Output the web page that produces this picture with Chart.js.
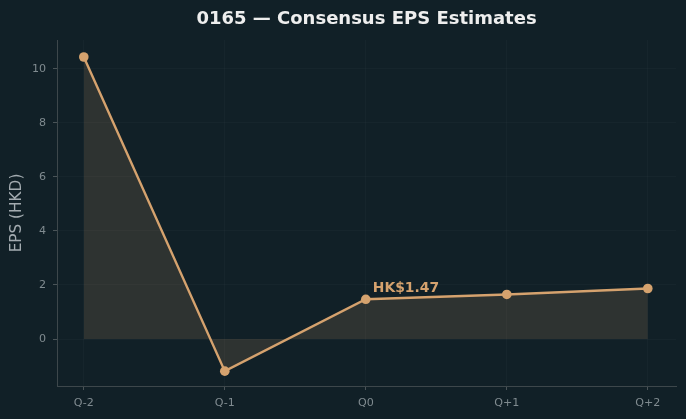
<!DOCTYPE html>
<html>
<head>
<meta charset="utf-8">
<script src="https://cdn.jsdelivr.net/npm/chart.js@4/dist/chart.umd.min.js"></script>
<style>
  html, body { margin: 0; padding: 0; background: #112027; }
  #wrap { width: 686px; height: 419px; }
</style>
</head>
<body>
<div id="wrap"><canvas id="chart"></canvas></div>
<script>
const quarters = ['Q-2', 'Q-1', 'Q0', 'Q+1', 'Q+2'];
const epsValues = [10.44, -1.19, 1.47, 1.65, 1.87];
const currentIndex = 2;
const currentLabel = 'HK$1.47';
const chartTitle = '0165 — Consensus EPS Estimates';

const accent = '#d5a26e';
const font = '"DejaVu Sans"';

// title centred over the plot area, plus the label at the current quarter
const textPlugin = {
  id: 'texts',
  afterDatasetsDraw(chart) {
    const ctx = chart.ctx;
    const area = chart.chartArea;
    ctx.save();
    ctx.font = 'bold 18px ' + font;
    ctx.fillStyle = '#eeeeee';
    ctx.textAlign = 'center';
    ctx.textBaseline = 'alphabetic';
    ctx.fillText(chartTitle, (area.left + area.right) / 2, 23.5);

    const x = chart.scales.x.getPixelForValue(currentIndex);
    const y = chart.scales.y.getPixelForValue(epsValues[currentIndex]);
    ctx.font = 'bold 13.9px ' + font;
    ctx.fillStyle = accent;
    ctx.textAlign = 'left';
    ctx.textBaseline = 'middle';
    ctx.fillText(currentLabel, x + 7, y - 11);
    ctx.restore();
  }
};

const ctx = document.getElementById('chart').getContext('2d');
new Chart(ctx, {
  type: 'line',
  data: {
    datasets: [{
      data: epsValues.map((v, i) => ({ x: i, y: v })),
      borderColor: accent,
      backgroundColor: 'rgba(212,160,106,0.15)',
      borderWidth: 2.4,
      pointRadius: 4.8,
      pointBackgroundColor: accent,
      pointBorderWidth: 0,
      fill: 'origin',
      tension: 0
    }]
  },
  options: {
    responsive: true,
    maintainAspectRatio: false,
    animation: false,
    layout: { padding: { left: 0, right: 10, top: 40, bottom: 0 } },
    plugins: {
      legend: { display: false },
      tooltip: { enabled: false },
      title: { display: false }
    },
    scales: {
      x: {
        type: 'linear',
        min: -0.19,
        max: 4.2,
        afterBuildTicks: s => { s.ticks = quarters.map((q, i) => ({ value: i })); },
        afterFit: s => { s.height = 33; },
        ticks: {
          color: '#808b90',
          font: { family: font, size: 11.1 },
          padding: 6,
          callback: v => quarters[v]
        },
        grid: {
          color: 'rgba(255,255,255,0.022)',
          tickColor: '#4a5458',
          tickLength: 4
        },
        border: { color: '#3d474b' }
      },
      y: {
        min: -1.74,
        max: 11.07,
        afterBuildTicks: s => { s.ticks = [0, 2, 4, 6, 8, 10].map(v => ({ value: v })); },
        afterFit: s => { s.width = 57; },
        ticks: {
          color: '#808b90',
          font: { family: font, size: 11.1 },
          padding: 7
        },
        grid: {
          color: 'rgba(255,255,255,0.022)',
          tickColor: '#4a5458',
          tickLength: 4
        },
        border: { color: '#3d474b' },
        title: {
          display: true,
          text: 'EPS (HKD)',
          color: '#a3abb0',
          font: { family: font, size: 15.3 },
          padding: { top: 8, bottom: 0 }
        }
      }
    }
  },
  plugins: [textPlugin]
});
</script>
</body>
</html>
